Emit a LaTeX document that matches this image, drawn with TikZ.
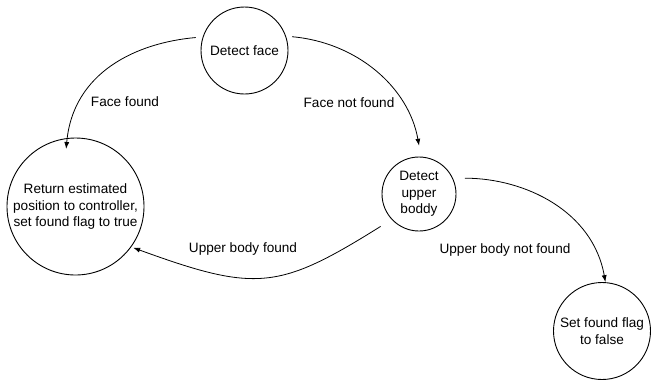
\documentclass[tikz,border=0pt]{standalone}
\usepackage{fontspec}
\setmainfont{Liberation Sans}
\usetikzlibrary{positioning, arrows.meta}

\tikzset{
	statenode/.style={draw, circle, line width=0.9pt, inner sep=0pt, align=center, font=\fontsize{13.6}{16.7}\selectfont},
	trans/.style={-{Latex[length=7pt,width=5pt]}, line width=0.8pt},
	lbl/.style={anchor=base, font=\fontsize{13.6}{16.7}\selectfont}
}

\begin{document}
\begin{tikzpicture}[x=1pt,y=1pt]
					\useasboundingbox (0,0) rectangle (652,-381);
					\node[statenode, minimum size=87pt] (detectface) at (244.5,-50.5) {Detect face};
					\node[statenode, minimum size=137pt] (returnpos) at (75.5,-206.5) {Return estimated\\position to controller,\\set found flag to true};
					\node[statenode, minimum size=74pt] (upperbody) at (419,-194) {Detect\\upper\\boddy};
					\node[statenode, minimum size=97pt] (setflag) at (602,-331) {Set found flag\\to false};

					\draw[trans, shorten <=7pt, shorten >=-11pt] (detectface.162) to[out=185,in=85] (returnpos.97);
					\draw[trans, shorten <=6pt, shorten >=11pt] (detectface.19) to[out=-5,in=100] (upperbody.87);
					\draw[trans, shorten <=13pt, shorten >=2pt] (upperbody.223) to[out=212,in=-20,looseness=1.3] (returnpos.-36);
					\draw[trans, shorten <=12pt] (upperbody.25) to[out=0,in=100] (setflag.86);

					\node[lbl] (facefound) at (125,-106.7) {Face found};
					\node[lbl] (facenotfound) at (349,-107.3) {Face not found};
					\node[lbl] (upperfound) at (243,-252.3) {Upper body found};
					\node[lbl] (uppernotfound) at (505,-253.3) {Upper body not found};
				\end{tikzpicture}
\end{document}
